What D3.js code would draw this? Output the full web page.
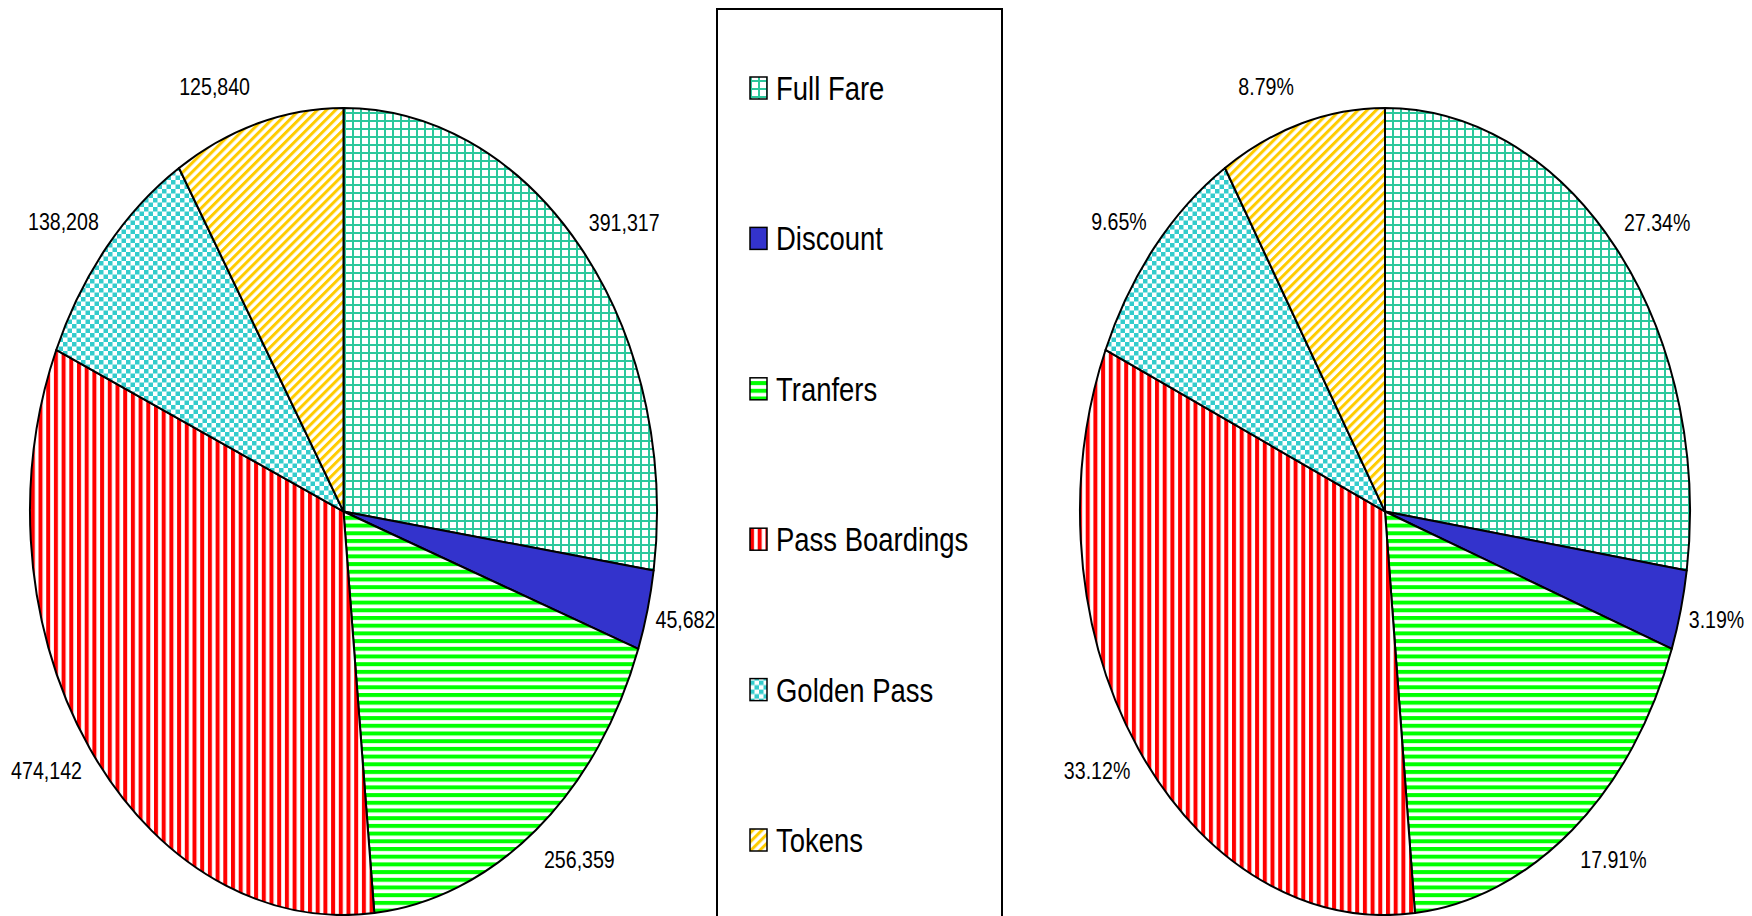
<!DOCTYPE html>
<html>
<head>
<meta charset="utf-8">
<script src="https://cdn.jsdelivr.net/npm/d3@7"></script>
<style>
  html, body { margin: 0; padding: 0; background: #fff; }
  svg { display: block; }
</style>
</head>
<body>
<svg id="chart"></svg>
<script>
const categories = ["Full Fare", "Discount", "Tranfers", "Pass Boardings", "Golden Pass", "Tokens"];
const boardings = [391317, 45682, 256359, 474142, 138208, 125840];
const percentLabels = ["27.34%", "3.19%", "17.91%", "33.12%", "9.65%", "8.79%"];
const countLabels = ["391,317", "45,682", "256,359", "474,142", "138,208", "125,840"];

const width = 1752, height = 916;
const svg = d3.select("#chart").attr("width", width).attr("height", height);
const defs = svg.append("defs");

// fill patterns, one per category
const fills = {
  "Full Fare": "url(#p-grid)",
  "Discount": "#3333cc",
  "Tranfers": "url(#p-hstripe)",
  "Pass Boardings": "url(#p-vstripe)",
  "Golden Pass": "url(#p-checker)",
  "Tokens": "url(#p-diag)"
};

const grid = defs.append("pattern").attr("id", "p-grid")
  .attr("patternUnits", "userSpaceOnUse").attr("width", 8).attr("height", 8);
grid.append("rect").attr("width", 8).attr("height", 8).attr("fill", "#fff");
grid.append("rect").attr("width", 2).attr("height", 8).attr("fill", "#2cc89c");
grid.append("rect").attr("width", 8).attr("height", 2).attr("fill", "#2cc89c");

const hs = defs.append("pattern").attr("id", "p-hstripe")
  .attr("patternUnits", "userSpaceOnUse").attr("width", 8).attr("height", 7.7);
hs.append("rect").attr("width", 8).attr("height", 7.7).attr("fill", "#fff");
hs.append("rect").attr("width", 8).attr("height", 4).attr("fill", "#00ff00");

const vs = defs.append("pattern").attr("id", "p-vstripe")
  .attr("patternUnits", "userSpaceOnUse").attr("width", 7.7).attr("height", 8);
vs.append("rect").attr("width", 7.7).attr("height", 8).attr("fill", "#fff");
vs.append("rect").attr("width", 4).attr("height", 8).attr("fill", "#ff0000");

const ck = defs.append("pattern").attr("id", "p-checker")
  .attr("patternUnits", "userSpaceOnUse").attr("width", 9).attr("height", 9);
ck.append("rect").attr("width", 9).attr("height", 9).attr("fill", "#fff");
ck.append("rect").attr("width", 4.5).attr("height", 4.5).attr("fill", "#33cccc");
ck.append("rect").attr("x", 4.5).attr("y", 4.5).attr("width", 4.5).attr("height", 4.5).attr("fill", "#33cccc");

const dg = defs.append("pattern").attr("id", "p-diag")
  .attr("patternUnits", "userSpaceOnUse").attr("width", 6.4).attr("height", 10)
  .attr("patternTransform", "rotate(45)");
dg.append("rect").attr("width", 6.4).attr("height", 10).attr("fill", "#fff");
dg.append("rect").attr("width", 3).attr("height", 10).attr("fill", "#ffcc00");

const pie = d3.pie().sort(null).value(d => d);
const arcsData = pie(boardings);

// elliptical slice: the pie is a circle squashed to rx x ry
function slicePath(d, cx, cy, rx, ry) {
  const pt = a => [cx + rx * Math.sin(a), cy - ry * Math.cos(a)];
  const [x0, y0] = pt(d.startAngle);
  const [x1, y1] = pt(d.endAngle);
  const large = d.endAngle - d.startAngle > Math.PI ? 1 : 0;
  return `M${cx},${cy}L${x0},${y0}A${rx},${ry} 0 ${large} 1 ${x1},${y1}Z`;
}

function drawPie(cx, cy, rx, ry, labels) {
  const g = svg.append("g");
  g.selectAll("path").data(arcsData).join("path")
    .attr("d", d => slicePath(d, cx, cy, rx, ry))
    .attr("fill", (d, i) => fills[categories[i]])
    .attr("stroke", "#000")
    .attr("stroke-width", 2)
    .attr("stroke-linejoin", "round");

  // labels sit just outside the rim, beside the slice's middle
  const mid = d => (d.startAngle + d.endAngle) / 2;
  g.selectAll("text").data(arcsData).join("text")
    .attr("transform", d => {
      const a = mid(d);
      const s = Math.sin(a), c = Math.cos(a);
      const x = cx + rx * s + (s >= 0 ? 8 : -8);
      const y = cy - ry * c - c * 38;
      return `translate(${x},${y}) scale(0.8,1)`;
    })
    .attr("text-anchor", d => Math.sin(mid(d)) >= 0 ? "start" : "end")
    .attr("dominant-baseline", "central")
    .attr("font-family", "Liberation Sans, Arial, sans-serif")
    .attr("font-size", 24.5)
    .attr("fill", "#000")
    .text((d, i) => labels[i]);
}

drawPie(343.5, 511.5, 313.5, 403.5, countLabels);
drawPie(1385, 511.5, 305, 403.5, percentLabels);

// legend
const legend = svg.append("g");
legend.append("rect")
  .attr("x", 717).attr("y", 9).attr("width", 285).attr("height", 920)
  .attr("fill", "none").attr("stroke", "#000").attr("stroke-width", 2);

const legendY = d3.scalePoint().domain(categories).range([88, 840]);
const items = legend.selectAll("g.item").data(categories).join("g")
  .attr("class", "item")
  .attr("transform", d => `translate(750,${legendY(d)})`);
items.append("rect")
  .attr("x", 0).attr("y", -11).attr("width", 17).attr("height", 22)
  .attr("fill", d => fills[d]).attr("stroke", "#000").attr("stroke-width", 1.5);
items.append("text")
  .attr("transform", "translate(26,0) scale(0.82,1)")
  .attr("dominant-baseline", "central")
  .attr("font-family", "Liberation Sans, Arial, sans-serif")
  .attr("font-size", 33.5)
  .attr("fill", "#000")
  .text(d => d);
</script>
</body>
</html>
